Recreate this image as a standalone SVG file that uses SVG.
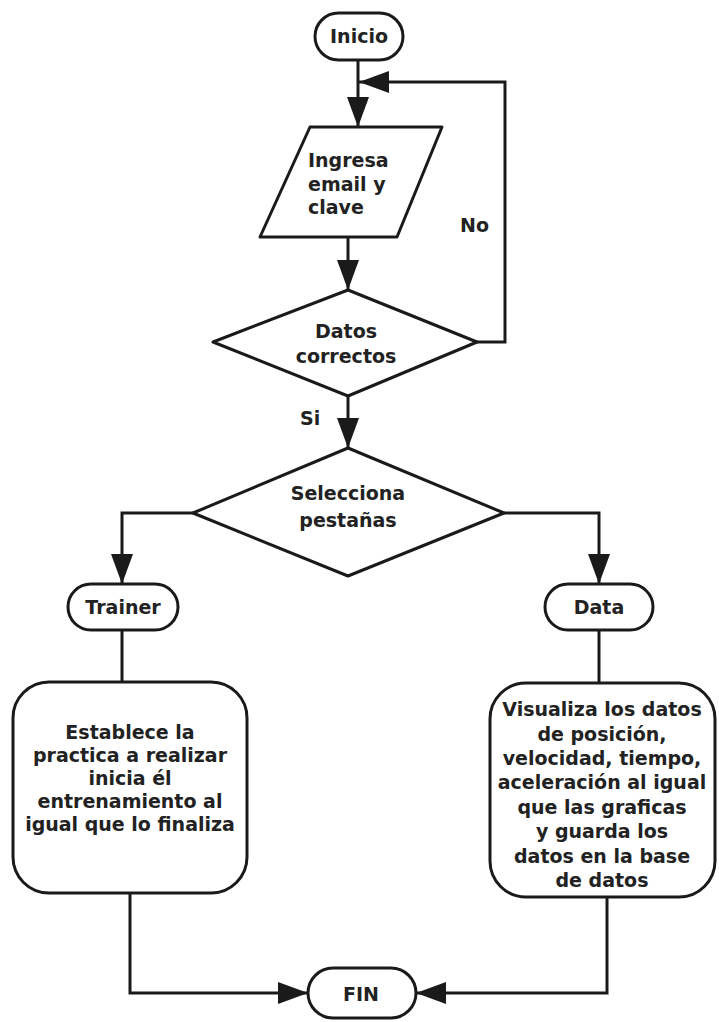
<svg xmlns="http://www.w3.org/2000/svg" width="719" height="1022" viewBox="0 0 719 1022">
<style>
.s{fill:#fff;stroke:#1a1a1a;stroke-width:3;stroke-linejoin:round}
.c{fill:none;stroke:#1a1a1a;stroke-width:3}
text{font-family:"DejaVu Sans","Liberation Sans",sans-serif;font-weight:bold;font-size:19px;fill:#222}
.m{text-anchor:middle}
</style>
<defs>
<marker id="ah" markerUnits="userSpaceOnUse" markerWidth="30" markerHeight="22" refX="30" refY="11" orient="auto">
<path d="M0,0 L30,11 L0,22 z" fill="#1a1a1a"/>
</marker>
</defs>
<rect width="719" height="1022" fill="#fff"/>
<g id="connectors">
<path class="c" d="M358,60 V127" marker-end="url(#ah)"/>
<path class="c" d="M477,342 H505 V82 H359" marker-end="url(#ah)"/>
<path class="c" d="M348,237 V290" marker-end="url(#ah)"/>
<path class="c" d="M348,396 V448" marker-end="url(#ah)"/>
<path class="c" d="M193,513 H122 V584" marker-end="url(#ah)"/>
<path class="c" d="M504,513 H599 V584" marker-end="url(#ah)"/>
<path class="c" d="M122,630 V682"/>
<path class="c" d="M599,630 V683"/>
<path class="c" d="M130,893 V993 H308" marker-end="url(#ah)"/>
<path class="c" d="M607,897 V993 H416" marker-end="url(#ah)"/>
<text x="460" y="232">No</text>
<text x="300" y="425">Si</text>
</g>
<g id="inicio">
<rect class="s" x="315" y="13" width="88" height="47" rx="23.5"/>
<text class="m" x="359" y="43">Inicio</text>
</g>
<g id="ingresa">
<polygon class="s" points="310,127 442,127 397,237 260,237"/>
<text x="308" y="167">Ingresa</text>
<text x="308" y="191">email y</text>
<text x="308" y="214">clave</text>
</g>
<g id="datos-correctos">
<polygon class="s" points="348,290 477,342 348,396 213,342"/>
<text class="m" x="346" y="338">Datos</text>
<text class="m" x="346" y="363">correctos</text>
</g>
<g id="selecciona">
<polygon class="s" points="348,448 504,513 348,576 193,513"/>
<text class="m" x="348" y="500">Selecciona</text>
<text class="m" x="348" y="527">pestañas</text>
</g>
<g id="trainer">
<rect class="s" x="68" y="584" width="110" height="46" rx="23"/>
<text class="m" x="123" y="614">Trainer</text>
</g>
<g id="data">
<rect class="s" x="545" y="584" width="108" height="46" rx="23"/>
<text class="m" x="599" y="614">Data</text>
</g>
<g id="establece">
<rect class="s" x="13" y="682" width="234" height="211" rx="36"/>
<text class="m" x="130" y="739">Establece la</text>
<text class="m" x="130" y="762">practica a realizar</text>
<text class="m" x="130" y="785">inicia él</text>
<text class="m" x="130" y="808">entrenamiento al</text>
<text class="m" x="130" y="831">igual que lo finaliza</text>
</g>
<g id="visualiza">
<rect class="s" x="490" y="683" width="225" height="214" rx="36"/>
<text class="m" x="602" y="716">Visualiza los datos</text>
<text class="m" x="602" y="741">de posición,</text>
<text class="m" x="602" y="765">velocidad, tiempo,</text>
<text class="m" x="602" y="789">aceleración al igual</text>
<text class="m" x="602" y="814">que las graficas</text>
<text class="m" x="602" y="838">y guarda los</text>
<text class="m" x="602" y="863">datos en la base</text>
<text class="m" x="602" y="887">de datos</text>
</g>
<g id="fin">
<rect class="s" x="308" y="968" width="108" height="50" rx="25"/>
<text class="m" x="361" y="1001">FIN</text>
</g>
</svg>
